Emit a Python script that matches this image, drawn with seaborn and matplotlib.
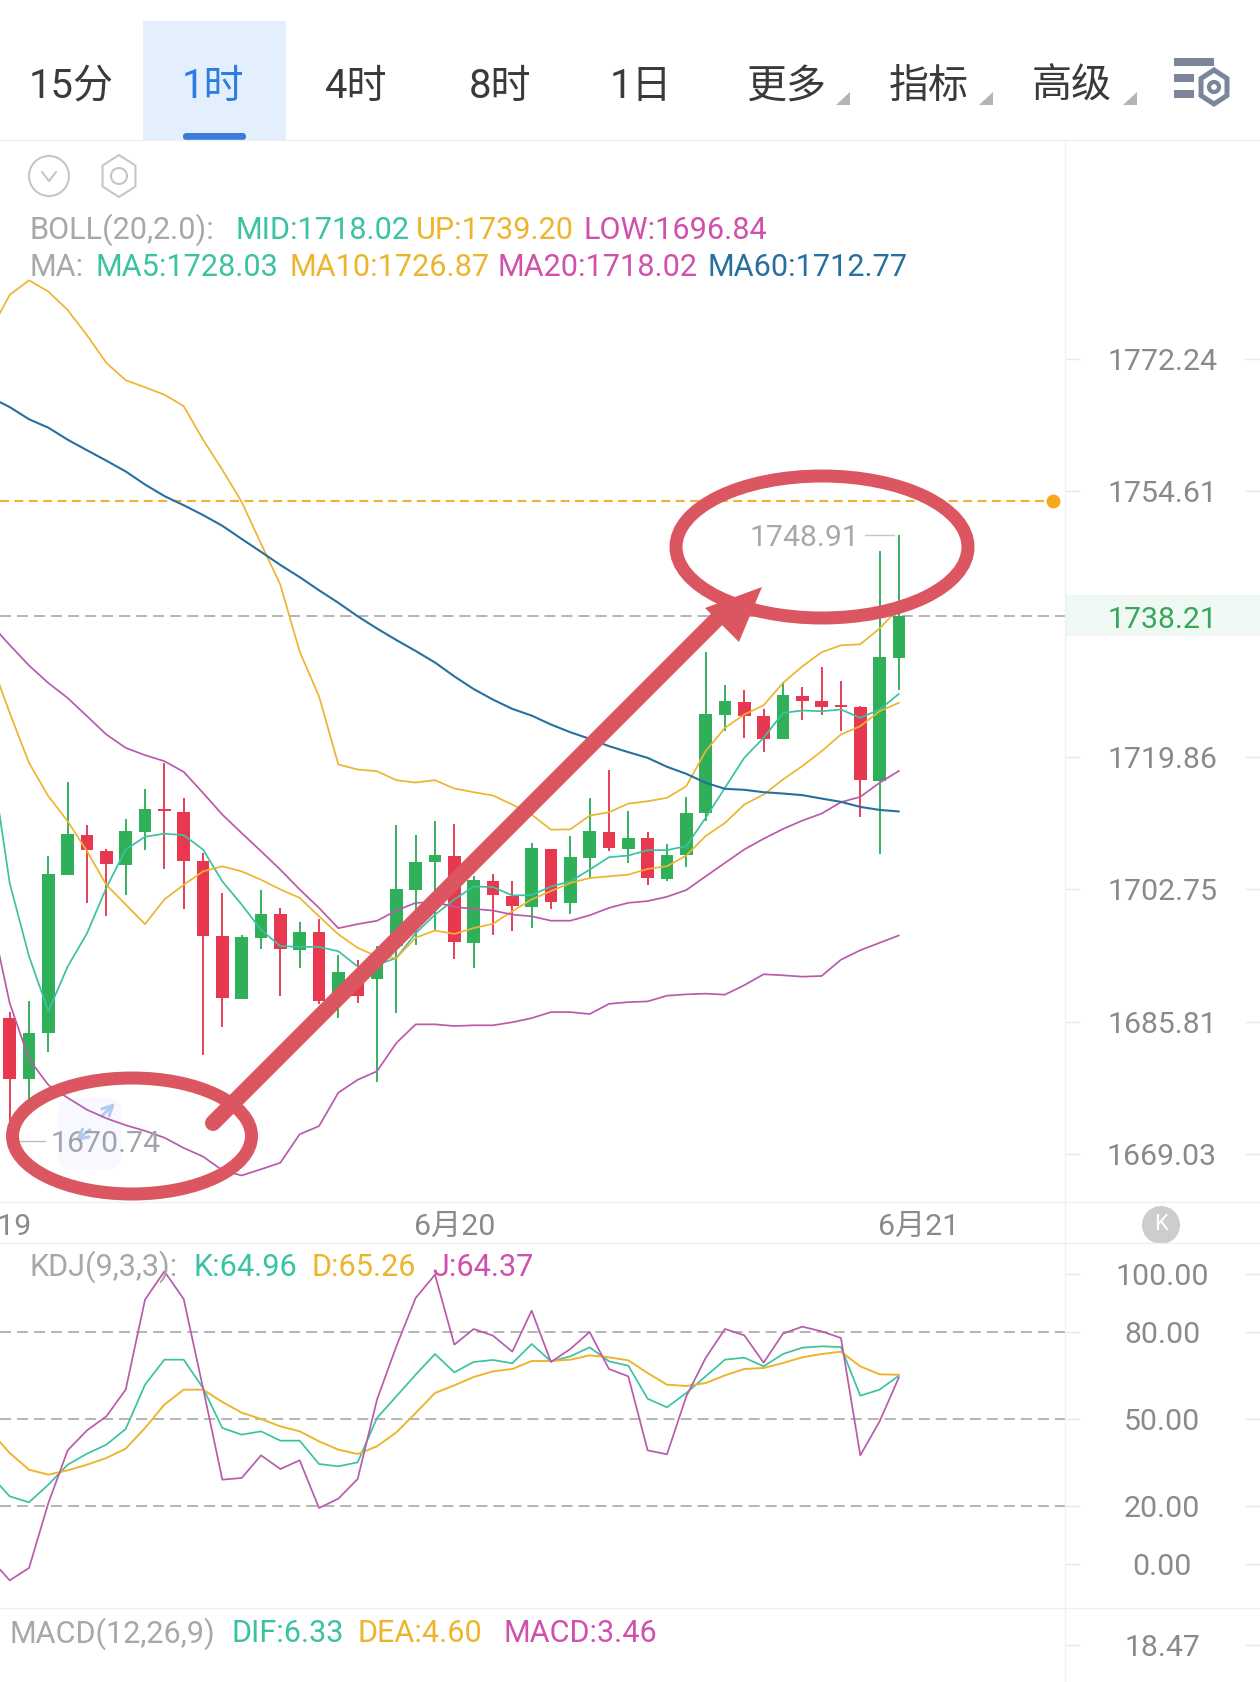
import matplotlib
matplotlib.use("Agg")
import matplotlib.pyplot as plt
from matplotlib.patches import Ellipse, Rectangle, Circle, Polygon, FancyBboxPatch
from matplotlib.ticker import NullLocator
import numpy as np
import pandas as pd
import seaborn as sns

# ---- hourly candles ----
candle_open = [1686.32,1678.55,1684.41,1704.62,1709.72,1707.73,1705.92,1710.16,1713.10,1712.75,
               1706.35,1696.71,1688.75,1696.54,1699.58,1695.02,1697.24,1688.83,1692.00,1691.21,
               1695.46,1702.65,1706.22,1707.09,1695.89,1703.85,1701.88,1700.45,1707.91,1701.05,
               1706.83,1710.16,1707.95,1709.30,1704.02,1707.18,1712.54,1725.34,1726.98,1725.12,
               1722.10,1727.80,1727.11,1726.46,1726.29,1716.69,1732.77]
candle_close = [1678.55,1684.41,1704.71,1709.81,1707.78,1705.96,1710.20,1713.14,1712.79,1706.44,
                1696.80,1688.83,1696.62,1699.62,1695.07,1697.29,1688.40,1692.17,1689.05,1694.59,
                1702.73,1706.26,1707.13,1695.98,1703.98,1702.01,1700.54,1708.00,1701.14,1706.92,
                1710.25,1708.00,1709.38,1704.15,1707.22,1712.63,1725.42,1727.07,1725.12,1722.18,
                1727.89,1727.11,1726.38,1726.29,1716.78,1732.82,1738.21]
candle_high = [1687.04,1688.49,1707.00,1716.56,1711.07,1707.99,1711.84,1715.69,1718.98,1714.52,
               1707.43,1702.30,1696.84,1702.61,1700.31,1698.50,1698.93,1694.37,1693.73,1695.54,
               1711.07,1709.72,1711.50,1711.20,1704.41,1704.76,1703.85,1708.65,1707.91,1709.60,
               1714.49,1718.12,1712.84,1710.08,1708.56,1714.62,1733.47,1729.23,1728.58,1726.12,
               1729.53,1728.88,1731.48,1729.75,1726.51,1746.73,1748.91]
candle_low = [1670.74,1675.97,1682.00,1704.62,1701.01,1699.28,1702.04,1707.86,1705.36,1700.23,
              1681.62,1685.19,1688.66,1695.11,1689.14,1692.64,1688.06,1686.36,1688.19,1678.24,
              1686.88,1695.67,1697.46,1693.86,1692.65,1696.93,1697.34,1697.77,1700.28,1699.63,
              1704.19,1707.65,1706.14,1703.24,1703.85,1705.62,1711.50,1723.18,1722.31,1720.45,
              1722.10,1724.69,1725.25,1723.18,1712.07,1707.31,1728.49]

# ---- overlays; each series starts one bar before the first visible candle ----
boll_up = [1775.97,1780.83,1782.77,1781.26,1778.78,1775.39,1771.71,1769.40,1768.45,1767.46,1765.94,
           1761.47,1757.48,1753.22,1747.72,1742.31,1733.55,1727.71,1718.85,1718.20,1717.98,
           1716.82,1716.51,1716.82,1715.74,1715.26,1714.83,1713.66,1712.36,1710.42,1710.46,
           1712.23,1712.67,1713.79,1714.09,1714.53,1716.04,1720.58,1723.61,1725.34,1726.55,
           1729.45,1731.61,1733.47,1734.37,1734.50,1736.58,1739.20]
boll_low = [1699.71,1688.19,1681.06,1677.81,1676.18,1674.67,1673.59,1672.72,1672.01,1671.15,1669.85,
            1668.77,1667.04,1666.39,1667.17,1667.99,1671.58,1672.60,1676.83,1678.46,1679.54,
            1683.12,1685.49,1685.49,1685.28,1685.37,1685.37,1685.76,1686.28,1687.05,1687.05,
            1686.80,1688.10,1688.32,1688.41,1689.14,1689.31,1689.40,1689.27,1690.48,1691.87,
            1691.74,1691.56,1691.65,1693.73,1694.94,1695.89,1696.84]
ma5 = [1720.36,1703.54,1694.16,1687.17,1692.86,1697.11,1702.95,1707.86,1709.51,1709.90,1709.72,
       1707.86,1703.76,1700.79,1697.55,1695.46,1695.37,1695.37,1694.81,1692.86,1693.08,
       1693.94,1697.11,1699.49,1701.44,1703.11,1703.03,1701.96,1702.01,1703.11,1703.76,
       1705.27,1706.87,1707.09,1707.78,1707.78,1708.30,1711.94,1715.83,1719.72,1722.31,
       1725.55,1725.86,1725.77,1725.99,1724.91,1725.99,1728.03]
ma10 = [1732.47,1725.55,1719.06,1714.74,1711.50,1707.65,1703.32,1700.79,1698.28,1701.44,1703.32,
        1705.05,1705.70,1705.05,1703.97,1702.73,1701.65,1699.28,1696.97,1695.24,1694.16,
        1693.94,1696.54,1697.46,1697.03,1697.77,1698.33,1699.93,1701.44,1702.52,1703.55,
        1704.19,1704.41,1704.63,1705.36,1705.71,1707.09,1709.60,1711.29,1713.67,1714.96,
        1716.91,1718.64,1720.58,1722.74,1723.83,1725.77,1726.87]
ma20 = [1737.22,1734.41,1731.73,1729.44,1727.49,1725.12,1722.74,1721.01,1720.06,1719.28,1717.90,
        1715.17,1712.36,1709.98,1707.65,1705.27,1702.73,1700.36,1697.76,1698.28,1698.71,
        1700.01,1701.01,1701.09,1700.49,1700.23,1700.02,1699.50,1699.28,1698.72,1698.72,
        1699.41,1700.36,1701.01,1701.23,1701.79,1702.65,1704.41,1706.14,1707.87,1709.25,
        1710.51,1711.59,1712.50,1713.97,1714.66,1716.48,1718.02]
ma60 = [1767.11,1765.81,1764.19,1763.07,1761.47,1760.07,1758.69,1757.26,1755.53,1754.00,1752.79,
        1751.49,1750.07,1748.34,1746.64,1744.91,1743.31,1741.58,1739.94,1738.17,1736.57,
        1735.06,1733.63,1732.12,1730.31,1728.66,1727.28,1726.07,1725.20,1724.04,1723.04,
        1722.18,1721.23,1720.45,1719.71,1718.55,1717.64,1716.48,1715.70,1715.57,1715.26,
        1715.09,1714.88,1714.44,1714.01,1713.36,1712.97,1712.77]

# ---- KDJ(9,3,3) ----
kdj_k = [30.69,23.33,21.27,27.36,34.25,38.05,41.15,46.55,61.84,70.46,70.46,
         60.69,46.90,44.60,45.75,42.53,42.53,34.48,33.68,35.06,50.35,
         57.82,65.29,72.41,66.09,69.66,70.35,69.20,75.86,69.89,71.61,
         74.71,69.89,68.39,57.01,54.02,58.97,64.71,70.46,71.15,68.16,
         72.41,74.60,75.06,74.83,58.05,60.12,64.96]
kdj_d = [45.75,38.28,32.53,30.81,32.30,34.25,36.55,39.77,46.90,54.94,60.12,
         60.12,55.86,52.18,50.00,47.47,45.75,42.30,39.43,37.93,40.58,
         45.40,52.07,58.97,61.61,64.48,66.44,67.24,70.00,70.00,70.46,
         71.95,71.27,70.23,65.86,61.84,61.38,62.41,65.06,67.24,67.59,
         69.31,71.27,72.41,73.22,68.16,65.40,65.26]
kdj_j = [1.73,-5.63,-1.38,21.04,39.20,46.09,50.92,60.12,91.15,100.92,91.38,
         60.69,29.08,29.66,37.47,32.76,35.75,19.31,22.53,29.31,56.67,
         75.06,91.73,99.77,75.63,81.04,78.74,73.22,87.36,69.66,74.14,
         80.00,67.24,64.71,39.20,37.82,57.82,71.04,81.04,78.85,69.43,
         79.43,81.84,80.23,77.93,37.47,49.20,64.37]

price_ticks = [1772.24, 1754.61, 1719.86, 1702.75, 1685.81, 1669.03]
kdj_ticks = [100.00, 80.00, 50.00, 20.00, 0.00]
kdj_guides = [80, 50, 20]
macd_ticks = [18.47]
last_price = 1738.21
alert_price = 1753.37
period_low = 1670.74
period_high = 1748.91
date_ticks = [(-1, "6月19"), (23, "6月20"), (47, "6月21")]
tab_labels = ["15分", "1时", "4时", "8时", "1日", "更多", "指标", "高级"]

GREEN = "#30AF59"
RED = "#E7384F"
TEAL = "#3BC2A3"
AMBER = "#EDB52F"
PINK = "#D050AC"
LINE_PINK = "#B95BAA"
BLUE = "#25709F"
GREY_TEXT = "#A8A8A8"
TICK_TEXT = "#8A8A8A"
RULE = "#F0F0F0"
GUIDE = "#B4B4B4"
MARKUP = "#DB5660"

W, H = 1260, 1682
PX = 0.72  # points per pixel at 100 dpi

sns.set_theme(style="white")
plt.rcParams["font.family"] = ["Roboto", "Noto Sans CJK SC", "DejaVu Sans"]
plt.rcParams["ytick.alignment"] = "center_baseline"

fig = plt.figure(figsize=(W / 100, H / 100), dpi=100, facecolor="white")

# pixel-space layer for page furniture and markup
ov = fig.add_axes([0, 0, 1, 1], zorder=10)
ov.set_xlim(0, W)
ov.set_ylim(H, 0)
ov.axis("off")
ov.patch.set_alpha(0)


def panel(x0, y0, x1, y1):
    axes = fig.add_axes([x0 / W, 1 - y1 / H, (x1 - x0) / W, (y1 - y0) / H])
    axes.set_facecolor("none")
    sns.despine(ax=axes, left=True, bottom=True, right=True, top=True)
    return axes


def y_axis(axes, ticks, labels):
    axes.yaxis.tick_right()
    axes.set_yticks(ticks)
    axes.set_yticklabels(labels)
    axes.yaxis.set_minor_locator(NullLocator())
    axes.tick_params(axis="y", length=15 * PX, width=1, color="#E8E8E8", pad=82 * PX,
                     labelsize=30.2 * PX, labelcolor=TICK_TEXT)
    for lab in axes.get_yticklabels():
        lab.set_ha("center")
    for t in ticks:
        axes.plot([1245 / 1065, 1260 / 1065], [t, t], transform=axes.get_yaxis_transform(),
                  color="#E8E8E8", lw=1, clip_on=False)


def series(axes, xs, ys, color, lw=1.25, z=4):
    frame = pd.DataFrame({"bar": xs, "value": ys})
    sns.lineplot(data=frame, x="bar", y="value", ax=axes, color=color, linewidth=lw,
                 estimator=None, errorbar=None, sort=False, legend=False, zorder=z)
    axes.set_xlabel("")
    axes.set_ylabel("")


# main candlestick panel on a logarithmic price scale
ax = panel(0, 140, 1065, 1202)
ax.set_yscale("log")
bars = np.arange(len(candle_open))
line_bars = np.arange(-1, len(candle_open))
o, c, hi, lo = map(np.array, (candle_open, candle_close, candle_high, candle_low))
colors = np.where(c >= o, GREEN, RED)
ax.vlines(bars, lo, hi, colors=colors, linewidth=1.35, zorder=2)
ax.bar(bars, np.maximum(np.abs(c - o), 0.25), bottom=np.minimum(o, c), width=0.66,
       color=colors, linewidth=0, zorder=3)
series(ax, line_bars, boll_up, AMBER)
series(ax, line_bars, boll_low, LINE_PINK)
series(ax, line_bars, ma5, TEAL)
series(ax, line_bars, ma10, AMBER)
series(ax, line_bars, ma20, LINE_PINK)
series(ax, line_bars, ma60, BLUE, lw=1.5)
ax.set_xlim(-0.502, 54.59)
ax.set_ylim(1663.06, 1801.74)
ax.set_xticks([])
y_axis(ax, price_ticks, [f"{t:.2f}" for t in price_ticks])

ax.plot([-0.5, 53.9], [alert_price] * 2, color=AMBER, lw=1.5, linestyle=(0, (4.3, 2.6)), zorder=1)
ax.axhline(last_price, color=GUIDE, lw=1.4, linestyle=(0, (5.66, 3.09)), zorder=1)
ax.scatter([53.95], [alert_price], s=100, color="#F7A81B", linewidth=0, zorder=5)

# faint zoom control sitting under the lines in the lower-left corner
ax.add_patch(FancyBboxPatch((58, 1098), 64, 72, boxstyle="round,pad=0,rounding_size=16",
                            color="#F7F9FE", lw=0, zorder=0.5, transform=ov.transData))
for start, end in (((100, 1118), (117, 1101)), ((92, 1128), (73, 1143))):
    ax.annotate("", xy=end, xytext=start, xycoords=ov.transData, textcoords=ov.transData,
                zorder=1, arrowprops=dict(arrowstyle="->", color="#B3C9EE", lw=2.2, mutation_scale=18))

# extreme price callouts
ax.plot([0.55, 1.82], [period_low] * 2, color="#BDBDBD", lw=1, zorder=5)
ax.text(2.1, period_low, f"{period_low:.2f}", color="#A0A4AC", fontsize=30.2 * PX,
        ha="left", va="center_baseline", zorder=6)
ax.plot([44.22, 45.75], [period_high] * 2, color="#C4C4C4", lw=1, zorder=5)
ax.text(43.95, period_high, f"{period_high:.2f}", color="#A8A8A8", fontsize=30.2 * PX,
        ha="right", va="center_baseline", zorder=6)

for pos, text in date_ticks:
    ax.text(pos, -(1227 - 1202) / 1062, text, transform=ax.get_xaxis_transform(), color=TICK_TEXT,
            fontsize=30.2 * PX, ha="center", va="center", clip_on=False)

# KDJ panel
ax2 = panel(0, 1243, 1065, 1608)
for level in kdj_guides:
    ax2.axhline(level, color=GUIDE, lw=1.4, linestyle=(0, (5.66, 3.09)), zorder=1)
series(ax2, line_bars, kdj_k, TEAL)
series(ax2, line_bars, kdj_d, AMBER, lw=1.4)
series(ax2, line_bars, kdj_j, LINE_PINK)
ax2.set_xlim(-0.502, 54.59)
ax2.set_ylim(-15.17, 110.69)
ax2.set_xticks([])
y_axis(ax2, kdj_ticks, [f"{t:.2f}" for t in kdj_ticks])

# MACD panel, only its header and top of scale are in view
ax3 = panel(0, 1608, 1065, 1682)
ax3.set_xlim(-0.502, 54.59)
ax3.set_ylim(0, 37)
ax3.set_xticks([])
y_axis(ax3, macd_ticks, [f"{t:.2f}" for t in macd_ticks])

for y in (140, 1202, 1243, 1608):
    ov.plot([0, W], [y, y], color=RULE, lw=1)
ov.plot([1065, 1065], [140, H], color=RULE, lw=1)

# toolbar
ov.add_patch(Rectangle((143, 21), 143, 119, color="#E3EFFC", lw=0))
ov.add_patch(FancyBboxPatch((183, 133), 63, 7, boxstyle="round,pad=0,rounding_size=3.5",
                            color="#3A7BDC", lw=0))
tab_x = [71, 213, 356, 500, 641, 786, 929, 1072]
for x, label in zip(tab_x, tab_labels):
    ov.text(x, 86, label, fontsize=40 * PX, ha="center", va="center",
            color="#2D7CE2" if label == "1时" else "#3A3A3A")
for x in (836, 979, 1123):
    ov.add_patch(Polygon([(x, 105), (x + 14, 105), (x + 14, 92)], color="#B4B4B4", lw=0))
for y, right in ((58, 1214), (74, 1194), (90, 1194)):
    ov.add_patch(Rectangle((1174, y), right - 1174, 8, color="#7C869A", lw=0))
hexagon = [(1214 + 15 * np.sin(a), 87 + 17 * np.cos(a)) for a in np.arange(6) * np.pi / 3]
ov.add_patch(Polygon(hexagon, closed=True, fc="white", ec="#7C869A", lw=3.6))
ov.add_patch(Circle((1214, 87), 5, fc="white", ec="#7C869A", lw=3))

# chart option icons
ov.add_patch(Ellipse((49, 176), 40, 40, fc="none", ec="#C6C6C6", lw=1.5))
ov.plot([42, 49, 56], [172, 181, 172], color="#C6C6C6", lw=1.5)
hex2 = [(119 + 19 * np.sin(a), 176 + 21 * np.cos(a)) for a in np.arange(6) * np.pi / 3]
ov.add_patch(Polygon(hex2, closed=True, fc="none", ec="#C6C6C6", lw=1.5))
ov.add_patch(Circle((119, 176), 8, fc="none", ec="#C6C6C6", lw=1.5))

# indicator headers
headers = [
    (230, [(29, "BOLL(20,2.0):", GREY_TEXT), (235, "MID:1718.02", TEAL),
           (416, "UP:1739.20", AMBER), (584, "LOW:1696.84", PINK)]),
    (267, [(29, "MA:", GREY_TEXT), (95, "MA5:1728.03", TEAL), (289, "MA10:1726.87", AMBER),
           (498, "MA20:1718.02", PINK), (707, "MA60:1712.77", BLUE)]),
    (1267, [(29, "KDJ(9,3,3):", GREY_TEXT), (193, "K:64.96", TEAL),
            (311, "D:65.26", AMBER), (432, "J:64.37", PINK)]),
    (1634, [(10, "MACD(12,26,9)", GREY_TEXT), (231, "DIF:6.33", TEAL),
            (358, "DEA:4.60", AMBER), (504, "MACD:3.46", PINK)]),
]
for y, parts in headers:
    for x, text, color in parts:
        ov.text(x, y, text, color=color, fontsize=30.6 * PX, ha="left", va="center")

# last-price flag on the scale
ov.add_patch(Rectangle((1066, 595), 194, 41, color="#EFF8F2", lw=0))
ov.text(1162, 616.5, f"{last_price:.2f}", color="#35A65B", fontsize=30.2 * PX, ha="center", va="center_baseline")

# collapse button on the time axis
ov.add_patch(Circle((1161, 1225), 19, color="#CDCDCD", lw=0))
ov.text(1161, 1225, "K", color="white", fontsize=22 * PX, ha="center", va="center")

# hand-drawn markup
ring = dict(fc="none", ec=MARKUP, lw=13 * PX, zorder=8)
ov.add_patch(Ellipse((132, 1136), 239, 116, **ring))
ov.add_patch(Ellipse((822, 547), 292, 142, **ring))
ov.plot([213, 722], [1123, 614], color=MARKUP, lw=16 * PX, solid_capstyle="round", zorder=8)
ov.add_patch(Polygon([(762, 587), (705, 608), (722, 625), (739, 642)], closed=True,
                     color=MARKUP, lw=0, zorder=8))

fig.savefig("out.png", dpi=100, facecolor="white")
